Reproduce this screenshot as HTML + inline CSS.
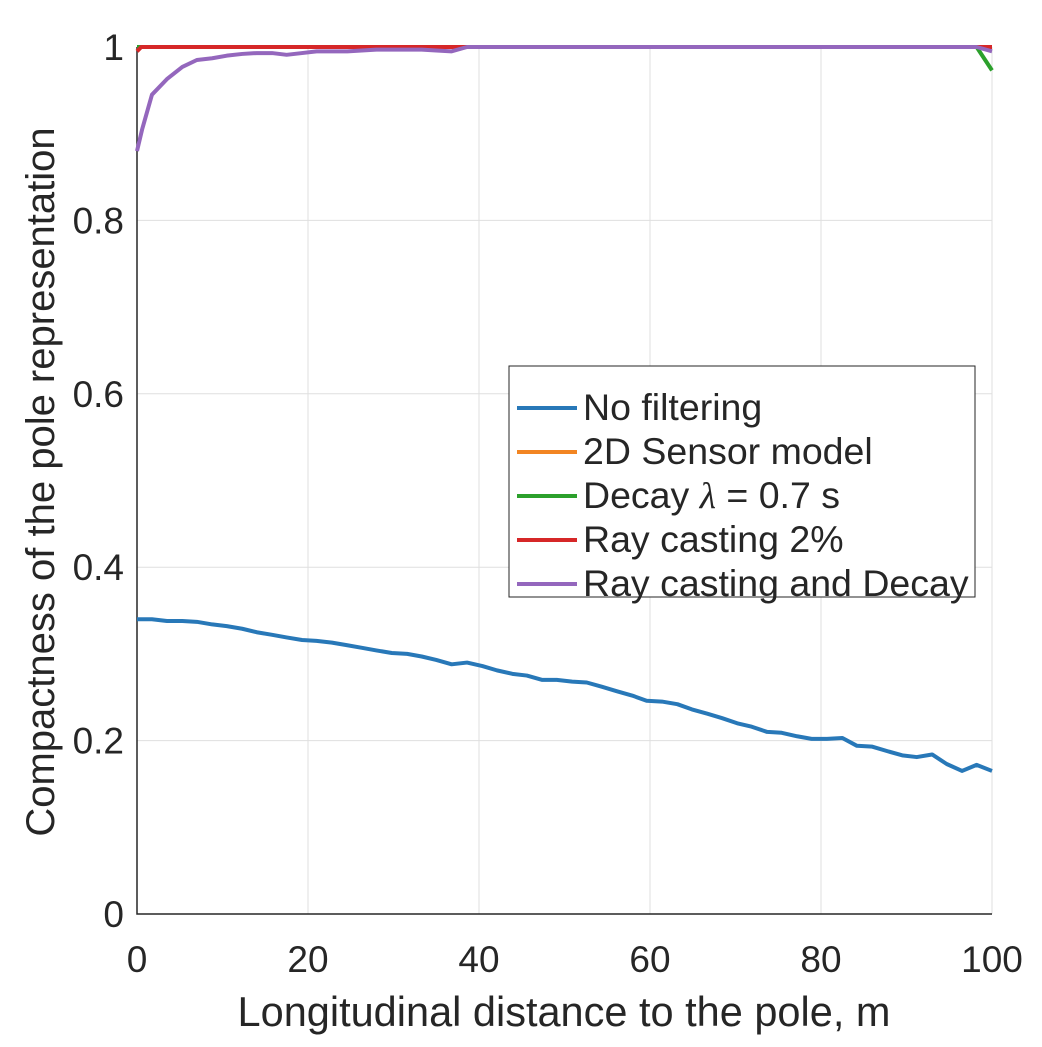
<!DOCTYPE html>
<html><head><meta charset="utf-8"><style>
body{margin:0;background:#fff;width:1042px;height:1042px;overflow:hidden}
svg text{font-family:"Liberation Sans",sans-serif;fill:#262626}
</style></head><body>
<svg id="chart" width="1042" height="1042">
<g id="grid"></g>
<g id="ticks"></g>
<g id="lines"></g>
<text x="564" y="1026" font-size="41.5" text-anchor="middle">Longitudinal distance to the pole, m</text>
<text transform="translate(54,482) rotate(-90)" font-size="40" text-anchor="middle">Compactness of the pole representation</text>
<g>
<rect x="509" y="366" width="466" height="231" fill="#fff" stroke="#262626" stroke-width="1"/>
<g id="legend"></g>
</g>
</svg>
<script>
const xTicks=[0,20,40,60,80,100];
const yTicks=[0,0.2,0.4,0.6,0.8,1];
const yTickLabels=["0","0.2","0.4","0.6","0.8","1"];
const blueX=[0,1.75,3.5,5.3,7,8.8,10.5,12.3,14,15.8,17.5,19.3,21,22.8,24.6,26.3,28,29.8,31.6,33.3,35,36.8,38.6,40.4,42.1,43.9,45.6,47.4,49.1,50.9,52.6,54.4,56.1,57.9,59.6,61.4,63.2,64.9,66.7,68.4,70.2,71.9,73.7,75.4,77.2,78.9,80.7,82.5,84.2,86,87.7,89.5,91.2,93,94.7,96.5,98.2,100];
const blueY=[0.340,0.340,0.338,0.338,0.337,0.334,0.332,0.329,0.325,0.322,0.319,0.316,0.315,0.313,0.310,0.307,0.304,0.301,0.300,0.297,0.293,0.288,0.290,0.286,0.281,0.277,0.275,0.270,0.270,0.268,0.267,0.262,0.257,0.252,0.246,0.245,0.242,0.236,0.231,0.226,0.220,0.216,0.210,0.209,0.205,0.202,0.202,0.203,0.194,0.193,0.188,0.183,0.181,0.184,0.173,0.165,0.172,0.165];
const orangeX=[0,100];
const orangeY=[1,1];
const greenX=[0,98.2,100];
const greenY=[1,1,0.973];
const redX=[0,0.5,100];
const redY=[0.995,1,1];
const purpleX=[0,0.6,1.75,3.5,5.3,7,8.8,10.5,12.3,14,15.8,17.5,19.3,21,22.8,24.6,26.3,28,29.8,31.6,33.3,35,36.8,38.6,98.2,100];
const purpleY=[0.88,0.905,0.945,0.963,0.977,0.985,0.987,0.990,0.992,0.993,0.993,0.991,0.993,0.995,0.995,0.995,0.996,0.997,0.997,0.997,0.997,0.996,0.995,1,1,0.995];
const series=[
 {name:"No filtering",x:blueX,y:blueY,key:"no-filtering"},
 {name:"2D Sensor model",x:orangeX,y:orangeY,key:"2d-sensor-model"},
 {name:"Decay λ = 0.7 s",x:greenX,y:greenY,key:"decay"},
 {name:"Ray casting 2%",x:redX,y:redY,key:"ray-casting"},
 {name:"Ray casting and Decay",x:purpleX,y:purpleY,key:"ray-casting-and-decay"}];
const colors=["#2878b8","#f28522","#2ca02c","#d62728","#9467bd"];
const X0=137,X1=992,Y0=914,Y1=47;
const sx=v=>X0+(X1-X0)*v/100, sy=v=>Y0-(Y0-Y1)*v;
const NS="http://www.w3.org/2000/svg";
function mk(tag,attrs,parent){const e=document.createElementNS(NS,tag);for(const k in attrs)e.setAttribute(k,attrs[k]);parent.appendChild(e);return e;}
const grid=document.getElementById('grid'),ticks=document.getElementById('ticks'),lines=document.getElementById('lines'),leg=document.getElementById('legend');
xTicks.forEach(t=>{const l=mk('line',{x1:sx(t),x2:sx(t),y1:Y1,y2:Y0,stroke:'#dfdfdf','stroke-width':1},grid);


const tx=mk('text',{x:sx(t),y:Y0+58,'font-size':37,'text-anchor':'middle'},ticks);tx.textContent=t;

});
yTicks.forEach((t,i)=>{const l=mk('line',{x1:X0,x2:X1,y1:sy(t),y2:sy(t),stroke:'#dfdfdf','stroke-width':1},grid);


const tx=mk('text',{x:X0-13,y:sy(t)+13,'font-size':37,'text-anchor':'end'},ticks);tx.textContent=yTickLabels[i];

});
const ax=mk('path',{d:`M${X0},${Y1}V${Y0}H${X1}`,fill:'none',stroke:'#262626','stroke-width':1.5},grid);


series.forEach((s,i)=>{const pts=s.x.map((x,j)=>sx(x)+','+sy(s.y[j])).join(' ');
const p=mk('polyline',{points:pts,fill:'none',stroke:colors[i],'stroke-width':4,'stroke-linejoin':'round'},lines);


const ly=408+i*44;
const ll=mk('line',{x1:517,x2:577,y1:ly,y2:ly,stroke:colors[i],'stroke-width':4},leg);


const lt=mk('text',{x:583,y:ly+12,'font-size':37.5},leg);
if(i==2){lt.innerHTML='Decay <tspan font-style="italic" font-family="Liberation Serif">λ</tspan> = 0.7 s';}else lt.textContent=s.name;

});
</script>
</body></html>
